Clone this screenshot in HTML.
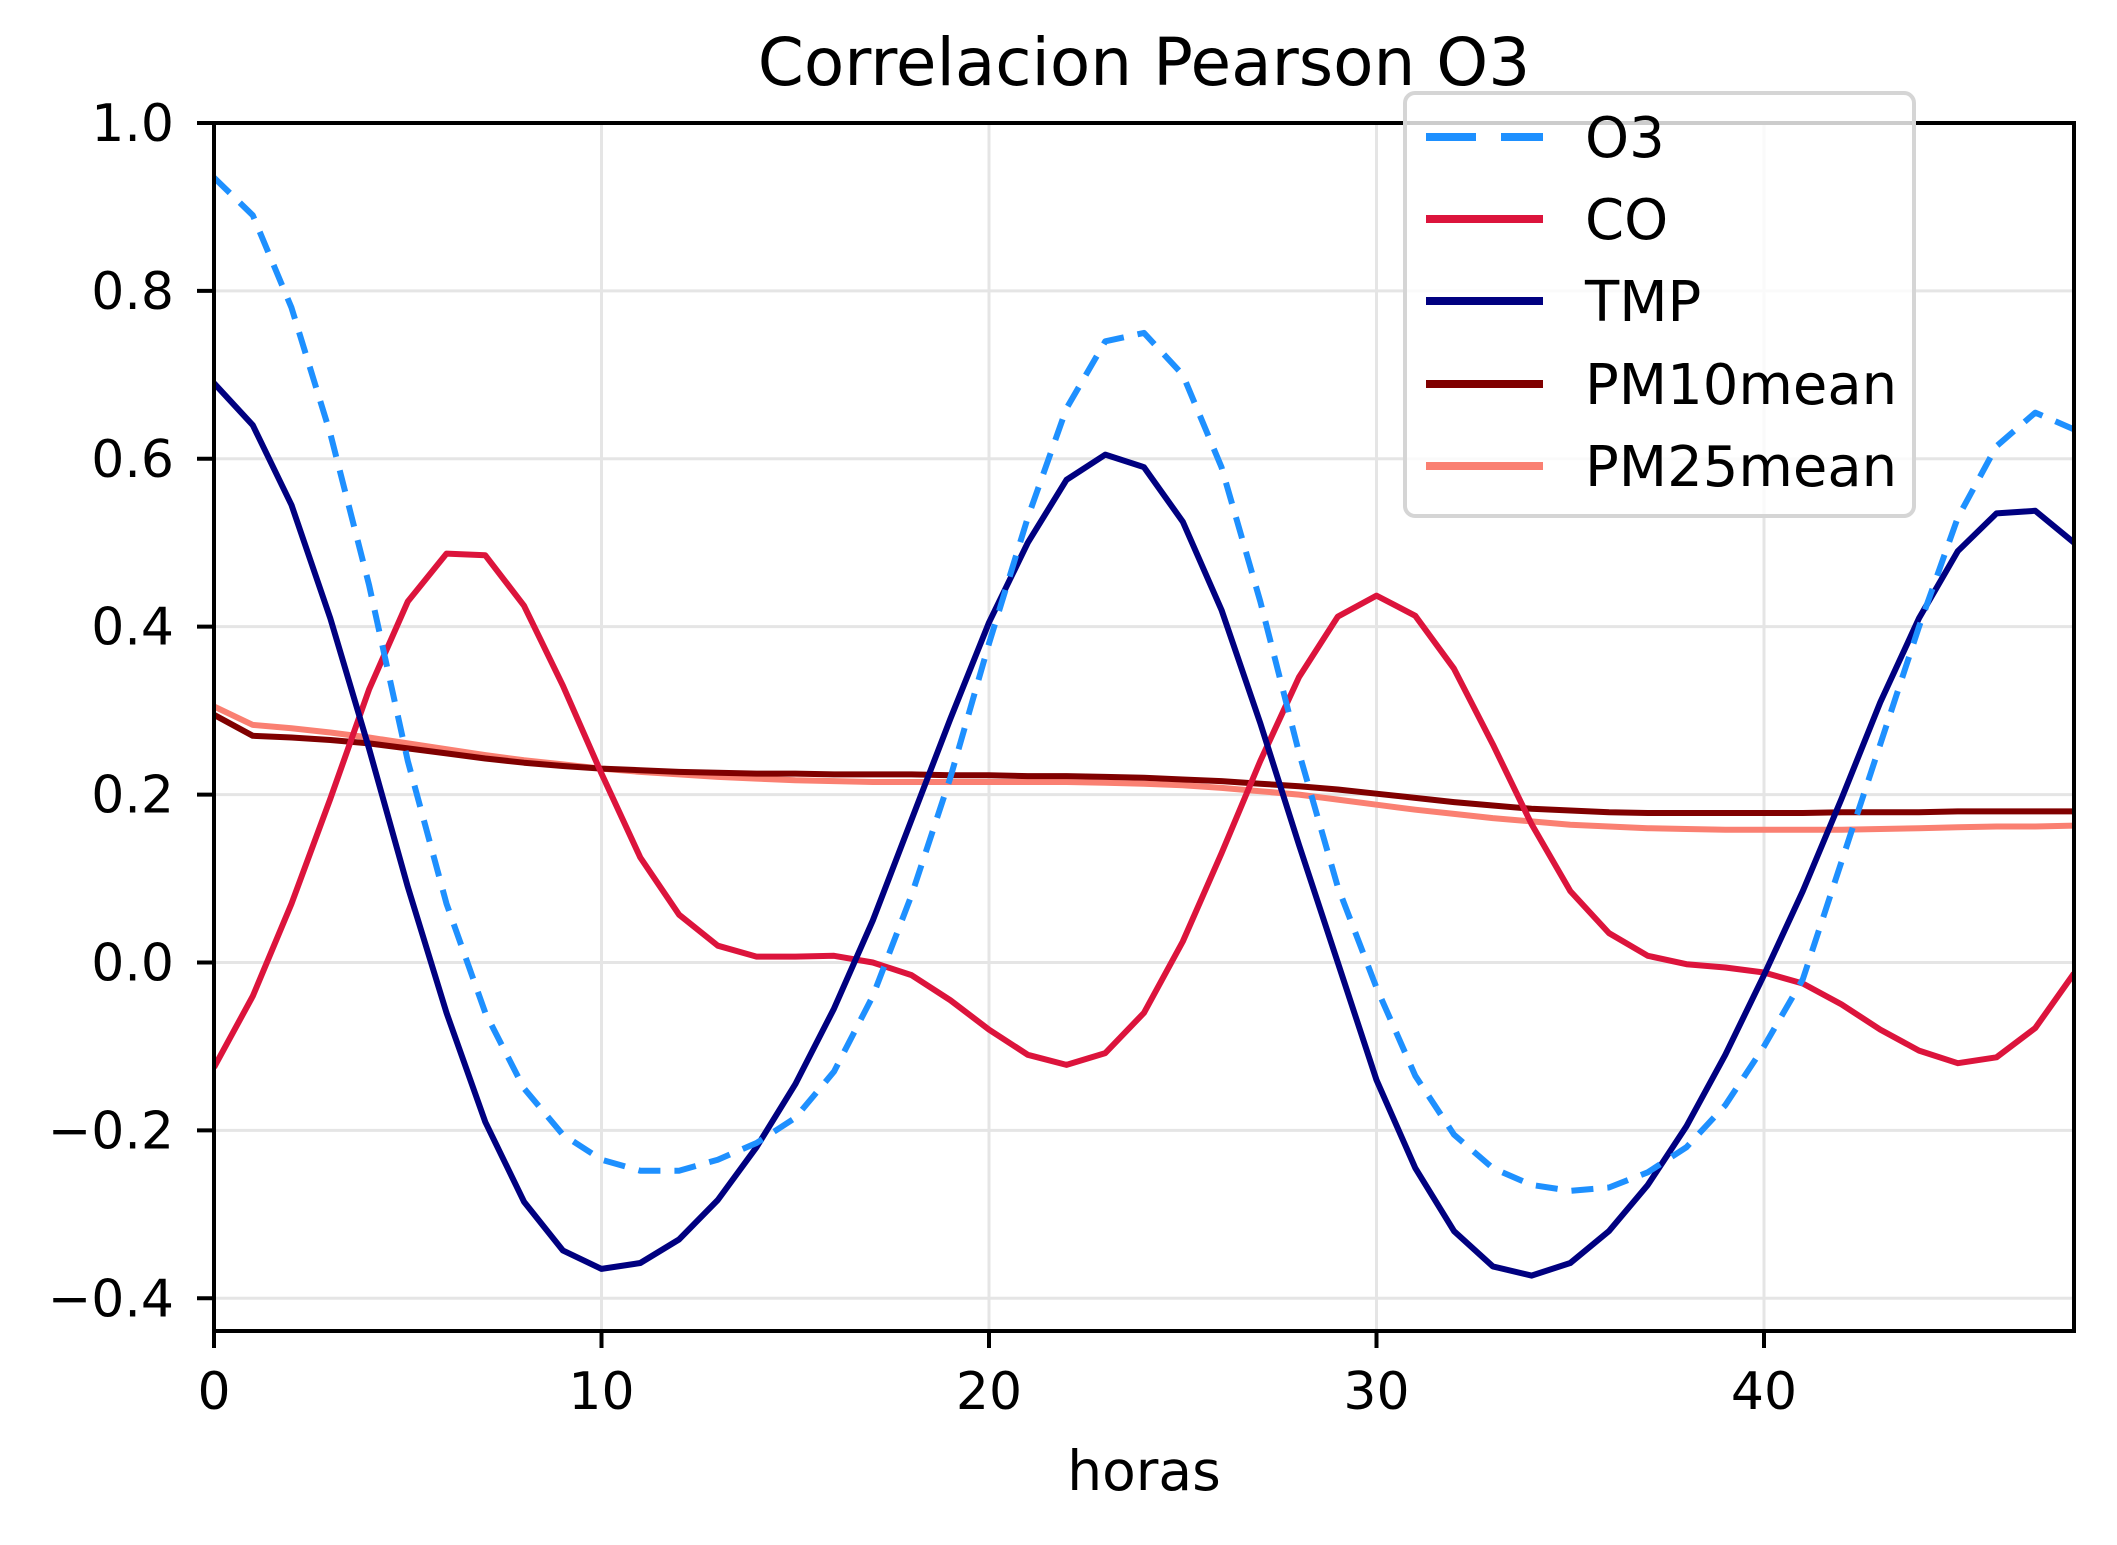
<!DOCTYPE html>
<html><head><meta charset="utf-8"><style>
body{margin:0;background:#fff}
svg text{font-family:"DejaVu Sans","Liberation Sans",sans-serif;fill:#000}
</style></head><body>
<svg id="chart" width="2117" height="1540" xmlns="http://www.w3.org/2000/svg">
<rect width="2117" height="1540" fill="#fff"/>
<g id="grid"></g>
<g id="series"></g>
<g id="axes"></g>
<text x="1144" y="85" font-size="66" text-anchor="middle">Correlacion Pearson O3</text>
<text x="1144" y="1490" font-size="55" text-anchor="middle">horas</text>
<g id="legend"></g>
</svg>
<script>
const hours = Array.from({length:49},(_,i)=>i);
const o3 = [0.935,0.89,0.78,0.63,0.45,0.24,0.07,-0.06,-0.15,-0.205,-0.235,-0.248,-0.248,-0.235,-0.215,-0.185,-0.13,-0.04,0.08,0.22,0.38,0.53,0.66,0.74,0.75,0.70,0.59,0.43,0.25,0.09,-0.03,-0.135,-0.205,-0.245,-0.265,-0.272,-0.268,-0.25,-0.22,-0.17,-0.1,-0.02,0.12,0.26,0.4,0.53,0.615,0.655,0.635];
const co = [-0.125,-0.04,0.07,0.195,0.325,0.43,0.487,0.485,0.425,0.33,0.225,0.125,0.057,0.02,0.007,0.007,0.008,0.0,-0.015,-0.045,-0.08,-0.11,-0.122,-0.108,-0.06,0.025,0.13,0.24,0.34,0.412,0.437,0.413,0.35,0.26,0.165,0.085,0.035,0.008,-0.002,-0.006,-0.012,-0.025,-0.05,-0.08,-0.105,-0.12,-0.113,-0.078,-0.013];
const tmp = [0.69,0.64,0.545,0.41,0.255,0.09,-0.06,-0.19,-0.285,-0.343,-0.365,-0.358,-0.33,-0.283,-0.22,-0.145,-0.055,0.05,0.17,0.29,0.405,0.5,0.575,0.605,0.59,0.525,0.42,0.285,0.14,0.0,-0.14,-0.245,-0.32,-0.362,-0.373,-0.358,-0.32,-0.265,-0.195,-0.11,-0.015,0.085,0.195,0.31,0.41,0.49,0.535,0.538,0.5];
const pm10 = [0.295,0.27,0.268,0.265,0.261,0.255,0.249,0.243,0.238,0.234,0.231,0.229,0.227,0.226,0.225,0.225,0.224,0.224,0.224,0.223,0.223,0.222,0.222,0.221,0.22,0.218,0.216,0.213,0.21,0.206,0.201,0.196,0.191,0.187,0.183,0.181,0.179,0.178,0.178,0.178,0.178,0.178,0.179,0.179,0.179,0.18,0.18,0.18,0.18];
const pm25 = [0.305,0.283,0.279,0.274,0.268,0.261,0.254,0.247,0.241,0.236,0.231,0.227,0.224,0.221,0.219,0.217,0.216,0.215,0.215,0.215,0.215,0.215,0.215,0.214,0.213,0.211,0.208,0.204,0.2,0.194,0.188,0.182,0.177,0.172,0.168,0.164,0.162,0.16,0.159,0.158,0.158,0.158,0.158,0.159,0.16,0.161,0.162,0.162,0.163];
const xTicks = [0,10,20,30,40];
const yTicks = [-0.4,-0.2,0.0,0.2,0.4,0.6,0.8,1.0];
const yTickLabels = ["\u22120.4","\u22120.2","0.0","0.2","0.4","0.6","0.8","1.0"];
const seriesNames = ["O3","CO","TMP","PM10mean","PM25mean"];

const L=214,R=2074,T=123,B=1331,X0=0,X1=48,Y0=-0.439,Y1=1.0;
const sx=v=>L+(v-X0)/(X1-X0)*(R-L);
const sy=v=>B-(v-Y0)/(Y1-Y0)*(B-T);
const NS="http://www.w3.org/2000/svg";
function mk(tag,attrs,parent){const e=document.createElementNS(NS,tag);for(const k in attrs)e.setAttribute(k,attrs[k]);parent.appendChild(e);return e;}
const grid=document.getElementById('grid'),axes=document.getElementById('axes'),ser=document.getElementById('series'),leg=document.getElementById('legend');
xTicks.forEach(t=>{
  const g=mk('line',{x1:sx(t),x2:sx(t),y1:T,y2:B,stroke:'#e5e5e5','stroke-width':3},grid);
  
  
  const tk=mk('line',{x1:sx(t),x2:sx(t),y1:B,y2:B+17,stroke:'#000','stroke-width':4},axes);
  
  
  const tx=mk('text',{x:sx(t),y:B+78,'font-size':52,'text-anchor':'middle'},axes);
  tx.textContent=t;
  
  
});
yTicks.forEach((t,i)=>{
  const g=mk('line',{x1:L,x2:R,y1:sy(t),y2:sy(t),stroke:'#e5e5e5','stroke-width':3},grid);
  
  
  const tk=mk('line',{x1:L-17,x2:L,y1:sy(t),y2:sy(t),stroke:'#000','stroke-width':4},axes);
  
  
  const tx=mk('text',{x:L-40,y:sy(t)+18,'font-size':52,'text-anchor':'end'},axes);
  tx.textContent=yTickLabels[i];
  
  
});
const frame=mk('rect',{x:L,y:T,width:R-L,height:B-T,fill:'none',stroke:'#000','stroke-width':4},axes);


const defs=[[o3,'#1e90ff','22,14'],[co,'#dc143c',null],[tmp,'#000080',null],[pm10,'#800000',null],[pm25,'#fa8072',null]];
const cp=mk('clipPath',{id:'clip'},ser);mk('rect',{x:L,y:T,width:R-L,height:B-T},cp);
[4,3,1,2,0].forEach(i=>{
  const [d,c,dash]=defs[i];
  const p=mk('path',{d:d.map((v,j)=>(j?'L':'M')+sx(hours[j]).toFixed(1)+','+sy(v).toFixed(1)).join(''),fill:'none',stroke:c,'stroke-width':6,'stroke-linejoin':'round','clip-path':'url(#clip)'},ser);
  if(dash)p.setAttribute('stroke-dasharray',dash);
  
  
});
const box=mk('rect',{x:1405,y:93,width:509,height:423,rx:10,fill:'rgba(255,255,255,0.8)',stroke:'#d5d5d5','stroke-width':4},leg);


const ly=[137,219,301,384,466];
seriesNames.forEach((n,i)=>{
  const [d,c,dash]=defs[i];
  const ln=mk('line',{x1:1426,x2:1543,y1:ly[i],y2:ly[i],stroke:c,'stroke-width':8},leg);
  if(dash)ln.setAttribute('stroke-dasharray','50,25');
  
  
  const tx=mk('text',{x:1585,y:ly[i]+20,'font-size':56},leg);
  tx.textContent=n;
  
  
});
</script>
</body></html>
